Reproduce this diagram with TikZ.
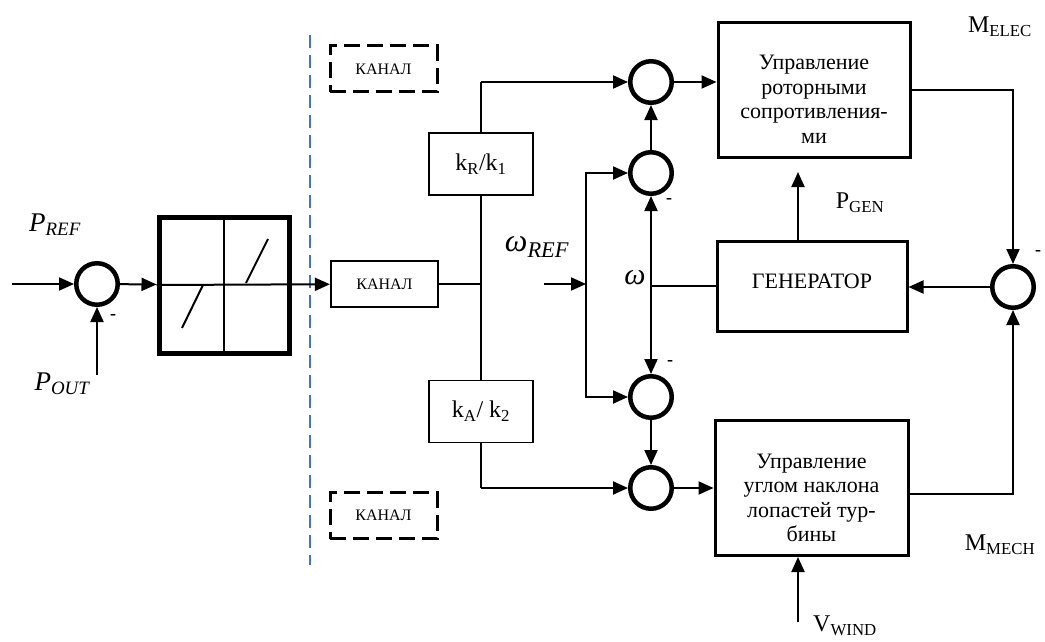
\documentclass[tikz,border=0pt]{standalone}
\usepackage{fontspec}
\setmainfont{Liberation Serif}
\usetikzlibrary{arrows.meta}
\definecolor{sepblue}{RGB}{68,114,196}

\begin{document}
\begin{tikzpicture}[x=1pt, y=-1pt, line width=2pt,
  >={Triangle[length=15pt,width=13pt]},
  sum/.style={circle, draw, line width=4.5pt, minimum size=41.5pt, inner sep=0pt},
  blk/.style={draw, line width=3pt, inner sep=0pt},
  blktxt/.style={align=center, inner sep=0pt, font=\fontsize{22}{24.5}\selectfont},
  kbox/.style={draw, line width=1.4pt, minimum width=104pt, minimum height=62pt, inner sep=0pt, font=\fontsize{24}{28}\selectfont},
  kanal/.style={draw, line width=2.2pt, minimum width=107pt, minimum height=46pt, inner sep=0pt, font=\fontsize{16}{18}\selectfont},
  kanaldash/.style={kanal, line width=3pt, dash pattern=on 16pt off 7pt},
  lbl/.style={font=\fontsize{24}{28}\selectfont},
  ilbl/.style={font=\fontsize{27}{30}\selectfont\itshape},
  minus/.style={font=\fontsize{18}{20}\selectfont\bfseries}]
\useasboundingbox (0,0) rectangle (1045,642);

\node[sum] (s0) at (97,284) {};
\node[ilbl] (pref) at (55,225) {P\textsubscript{REF}};
\node[ilbl] (pout) at (62,384) {P\textsubscript{OUT}};
\node[minus] (m0) at (113,317) {-};
\coordinate (in) at (12,284);
\coordinate (poutin) at (97,375);
\draw[->] (in) -- (s0);
\draw[->] (poutin) -- (s0);

\node[draw, line width=5pt, minimum width=130pt, minimum height=136pt, inner sep=0pt] (lim) at (224,285) {};
\draw (lim.north) -- (lim.south);
\draw (182,328) -- (203,285);
\draw (246,283) -- (268,239);
\draw[->] (s0) -- (lim);

\draw[color=sepblue, line width=1.6pt, dash pattern=on 13pt off 7pt] (310,35) -- (310,565);

\node[kanaldash] (kan1) at (383.5,69) {КАНАЛ};
\node[kanal] (kan) at (384.5,284) {КАНАЛ};
\node[kanaldash] (kan3) at (383.5,515.5) {КАНАЛ};
\draw[->] (lim.west) -- (kan);

\node[kbox] (kr) at (481,164) {k\textsubscript{R}/k\textsubscript{1}};
\node[kbox] (ka) at (481,411.5) {k\textsubscript{A}/ k\textsubscript{2}};
\coordinate (btop) at (481,82);
\coordinate (bmid) at (481,284);
\coordinate (bbot) at (481,488);
\draw (kan) -- (bmid);
\draw (btop) -- (kr);
\draw (kr) -- (ka);
\draw (ka) -- (bbot);

\node[sum] (s1) at (651,82) {};
\node[sum] (s2) at (651,173) {};
\node[sum] (s3) at (651,397) {};
\node[sum] (s4) at (651,488) {};
\node[minus] (m2) at (669,201) {-};
\node[minus] (m3) at (670,363) {-};
\draw[->] (btop) -- (s1);
\draw[->] (bbot) -- (s4);

\node[ilbl, font=\fontsize{32}{34}\selectfont\itshape] (wref) at (537,247) {ω\textsubscript{REF}};
\coordinate (wrefin) at (544,284);
\coordinate (wsplit) at (586,284);
\draw[->] (wrefin) -- (wsplit);
\draw[->] (wsplit) |- (s2);
\draw[->] (wsplit) |- (s3);

\node[blk, minimum width=192pt, minimum height=134pt] (c1) at (814,90) {};
\node[blktxt] (c1txt) at ([yshift=-9.5pt]c1.center) {Управление\\роторными\\сопротивления-\\ми};
\node[blk, minimum width=190pt, minimum height=90pt] (gen) at (812,286) {};
\node[blktxt] (gentxt) at ([yshift=5pt]gen.center) {ГЕНЕРАТОР};
\node[blk, minimum width=193pt, minimum height=135pt] (c2) at (811.5,488) {};
\node[blktxt] (c2txt) at ([yshift=-10pt]c2.center) {Управление\\углом наклона\\лопастей тур-\\бины};

\node[ilbl, font=\fontsize{30}{32}\selectfont\itshape] (w) at (635,278) {ω};
\coordinate (wj) at (651,286);
\draw (gen) -- (wj);
\draw[->] (wj) -- (s2);
\draw[->] (wj) -- (s3);
\draw[->] (s2) -- (s1);
\draw[->] (s3) -- (s4);
\draw[->] (s1.east) -- (s1.east -| c1.west);
\draw[->] (s4.east) -- (s4.east -| c2.west);

\node[sum] (s5) at (1013,287) {};
\node[minus] (m5) at (1038,253) {-};
\draw[->] (c1.east) -| (s5);
\draw[->] ([yshift=-6pt]c2.east) -| (s5);
\draw[->] (s5.west) -- (s5.west -| gen.east);

\coordinate (pgen) at (798,172);
\coordinate (vwind) at (798,622);
\draw[->] (gen.north -| pgen) -- (pgen);
\draw[->] (vwind) -- (vwind |- c2.south);

\node[lbl] (pgenl) at (860,203) {P\textsubscript{GEN}};
\node[lbl] (vwindl) at (845,626) {V\textsubscript{WIND}};
\node[lbl] (melec) at (1000,27) {M\textsubscript{ELEC}};
\node[lbl] (mmech) at (1000,545) {M\textsubscript{MECH}};
\end{tikzpicture}
\end{document}
